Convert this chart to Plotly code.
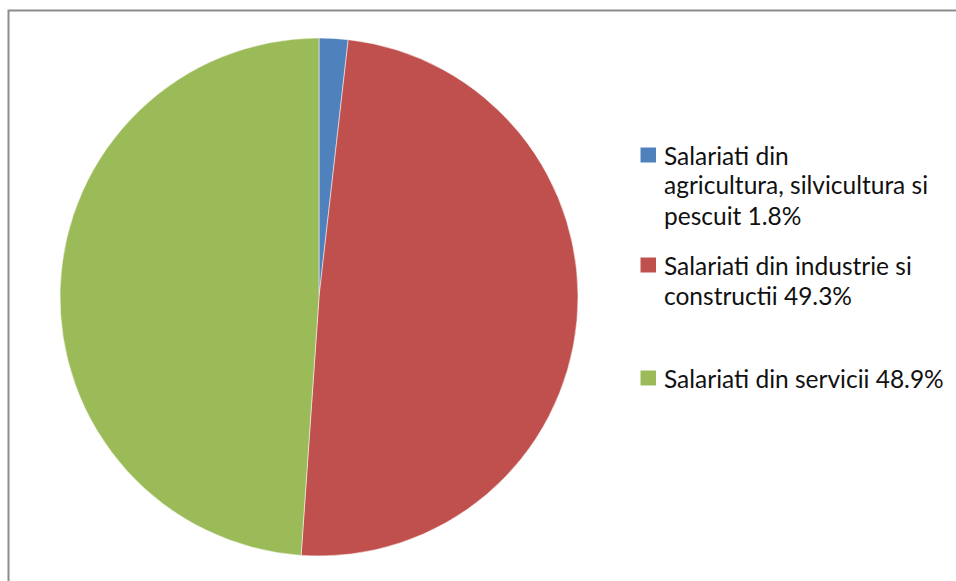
import plotly.graph_objects as go

labels = ["Salariati din agricultura, silvicultura si pescuit",
          "Salariati din industrie si constructii",
          "Salariati din servicii"]
values = [1.8, 49.3, 48.9]
colors = ["#4F81BD", "#C0504D", "#9BBB59"]
# wrapped legend text lines per item
legend_lines = [["Salariati din", "agricultura, silvicultura si", "pescuit 1.8%"],
                ["Salariati din industrie si", "constructii 49.3%"],
                ["Salariati din servicii 48.9%"]]

W, H = 956, 581
# layout positions (pixels)
item_tops = [155, 265, 378]
line_gap = 30
sq_x0, sq_x1, txt_x = 640.5, 656, 662

fig = go.Figure(go.Pie(
    labels=labels, values=values, sort=False, direction="clockwise", rotation=0,
    marker=dict(colors=colors, line=dict(color="white", width=0.5)),
    textinfo="none", hoverinfo="label+percent", showlegend=False,
    domain=dict(x=[60 / W, 578 / W], y=[1 - 556 / H, 1 - 38 / H]),
))

px = lambda x: x / W
py = lambda y: 1 - y / H

shapes = [dict(type="path", xref="paper", yref="paper",
               path=f"M {px(8.5)} {py(H + 2)} L {px(8.5)} {py(10.5)} L {px(W + 2)} {py(10.5)}",
               line=dict(color="#8C8C8C", width=2))]
annotations = []
for i, lines in enumerate(legend_lines):
    yc = item_tops[i]
    shapes.append(dict(type="rect", xref="paper", yref="paper",
                       x0=px(sq_x0), x1=px(sq_x1), y0=py(yc - 7.5), y1=py(yc + 7.5),
                       fillcolor=colors[i], line=dict(width=0)))
    for j, ln in enumerate(lines):
        annotations.append(dict(text=ln, xref="paper", yref="paper",
                                x=px(txt_x), y=py(yc + j * line_gap), xanchor="left", yanchor="middle",
                                showarrow=False, font=dict(family="Lato", size=24.5, color="#111111")))

fig.update_layout(width=W, height=H, margin=dict(l=0, r=0, t=0, b=0),
                  paper_bgcolor="white", plot_bgcolor="white",
                  shapes=shapes, annotations=annotations)
fig.write_html("out.html", config={"displayModeBar": False},
               post_script="document.body.style.margin='0';document.body.style.overflow='hidden';"
                           "document.documentElement.style.overflow='hidden';")
